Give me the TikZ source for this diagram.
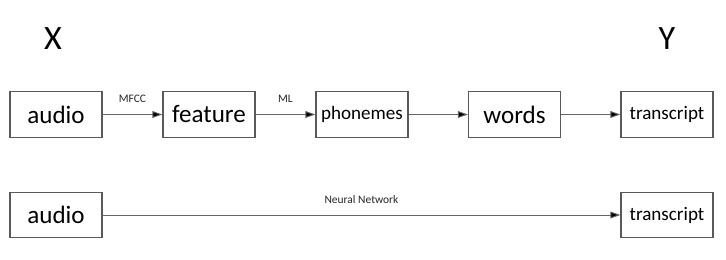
\documentclass[tikz,border=0pt]{standalone}
\usepackage{fontspec}
\setmainfont{Carlito}
\usetikzlibrary{arrows.meta}
\begin{document}
\begin{tikzpicture}[x=0.75pt,y=-0.75pt,
  stage/.style={draw=black!65,line width=0.8pt,minimum width=69pt,minimum height=34pt,inner sep=0pt},
  bigtxt/.style={font=\fontsize{18.8}{20}\selectfont},
  smalltxt/.style={font=\fontsize{14.3}{16}\selectfont},
  flow/.style={draw=black!60,line width=0.7pt,-{Triangle[length=7.5pt,width=5pt,fill=black]}},
  edgelabel/.style={font=\fontsize{8.6}{10}\selectfont,text=black!85},
  axis/.style={font=\fontsize{25.6}{28}\selectfont}]
\useasboundingbox (0,0) rectangle (726,260);
% column headings
\node[axis] (X) at (53,39) {X};
\node[axis] (Y) at (667,39) {Y};
% traditional pipeline
\node[stage,bigtxt]   (a1) at (56,114.5)  {audio};
\node[stage,bigtxt]   (f)  at (209,114.5) {feature};
\node[stage,smalltxt] (p)  at (362,114.5) {phonemes};
\node[stage,bigtxt]   (w)  at (514.5,114.5) {words};
\node[stage,smalltxt] (t1) at (667,114.5) {transcript};
\draw[flow] (a1) -- node[edgelabel,above=5pt] {MFCC} (f);
\draw[flow] (f)  -- node[edgelabel,above=5pt] {ML} (p);
\draw[flow] (p)  -- (w);
\draw[flow] (w)  -- (t1);
% end-to-end model
\node[stage,bigtxt]   (a2) at (56,215)  {audio};
\node[stage,smalltxt] (t2) at (667,215) {transcript};
\draw[flow] (a2) -- node[edgelabel,above=5pt] {Neural Network} (t2);
\end{tikzpicture}
\end{document}
